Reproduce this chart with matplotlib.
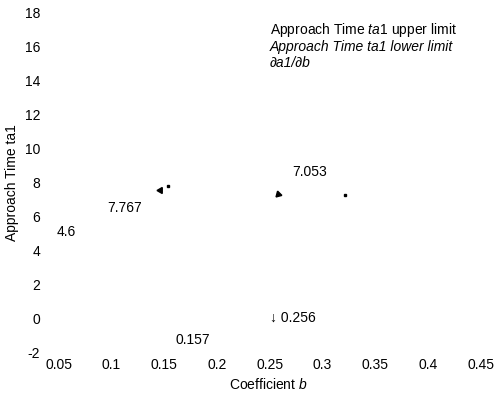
import matplotlib
matplotlib.use("Agg")
import matplotlib.pyplot as plt

plt.rcParams['font.family'] = ['Liberation Sans', 'DejaVu Sans']
plt.rcParams['mathtext.fontset'] = 'custom'
plt.rcParams['mathtext.rm'] = 'Liberation Sans'
plt.rcParams['mathtext.it'] = 'Liberation Sans:italic'

# --- data ---
x_ticks = [0.05, 0.1, 0.15, 0.2, 0.25, 0.3, 0.35, 0.4, 0.45]
x_tick_labels = ["0.05", "0.1", "0.15", "0.2", "0.25", "0.3", "0.35", "0.4", "0.45"]
y_ticks = [-2, 0, 2, 4, 6, 8, 10, 12, 14, 16, 18]
y_tick_labels = ["-2", "0", "2", "4", "6", "8", "10", "12", "14", "16", "18"]

legend_labels = ["Approach Time $\\mathit{ta1}$ upper limit",
                 "Approach Time ta1 lower limit",
                 "\u2202a1/\u2202b"]

ann_texts = ["7.053", "7.767", "4.6", "0.157", "\u2193 0.256"]
ann_x = [0.2715, 0.0963, 0.0485, 0.1605, 0.2505]
ann_y = [8.6, 6.5, 5.06, -1.3, 0.0]

head_x = [0.1461, 0.2579]
head_y = [7.53, 7.29]
head_angle = [90, 135]

dot_x = [0.3213, 0.1535]
dot_y = [7.24, 7.75]

fig = plt.figure(figsize=(4.98, 3.94), dpi=100)
ax = fig.add_axes([47/498, (394-352)/394, (490-47)/498, (352-12)/394])
ax.set_xlim(0.05 - 11.5/1056, 0.45 + 9/1056)
ax.set_ylim(-2, 18)
for s in ax.spines.values():
    s.set_visible(False)
ax.set_xticks(x_ticks)
ax.set_xticklabels(x_tick_labels)
ax.set_yticks(y_ticks)
ax.set_yticklabels(y_tick_labels)
ax.tick_params(length=0, labelsize=10, pad=4)
ax.tick_params(axis='y', pad=5)

ax.set_xlabel("Coefficient $\\mathit{b}$", fontsize=10, labelpad=4)
fig.text(12/498, 1 - 183/394, "Approach Time ta1", rotation=90, fontsize=10,
         ha='center', va='center')

styles = ['normal', 'italic', 'italic']
for i, (lab, st) in enumerate(zip(legend_labels, styles)):
    fig.text(270/498, 1 - (30 + 16.5*i)/394, lab, fontsize=10, style=st,
             ha='left', va='center')

for t, xx, yy in zip(ann_texts, ann_x, ann_y):
    ax.text(xx, yy, t, fontsize=10, ha='left', va='center')

for xx, yy, ang in zip(head_x, head_y, head_angle):
    ax.plot([xx], [yy], marker=(3, 0, ang), markersize=5, color='black',
            linestyle='none', clip_on=False)
ax.plot(dot_x, dot_y, marker='s', markersize=1.5, color='black', linestyle='none')

fig.savefig("out.png", dpi=100, facecolor='white')
